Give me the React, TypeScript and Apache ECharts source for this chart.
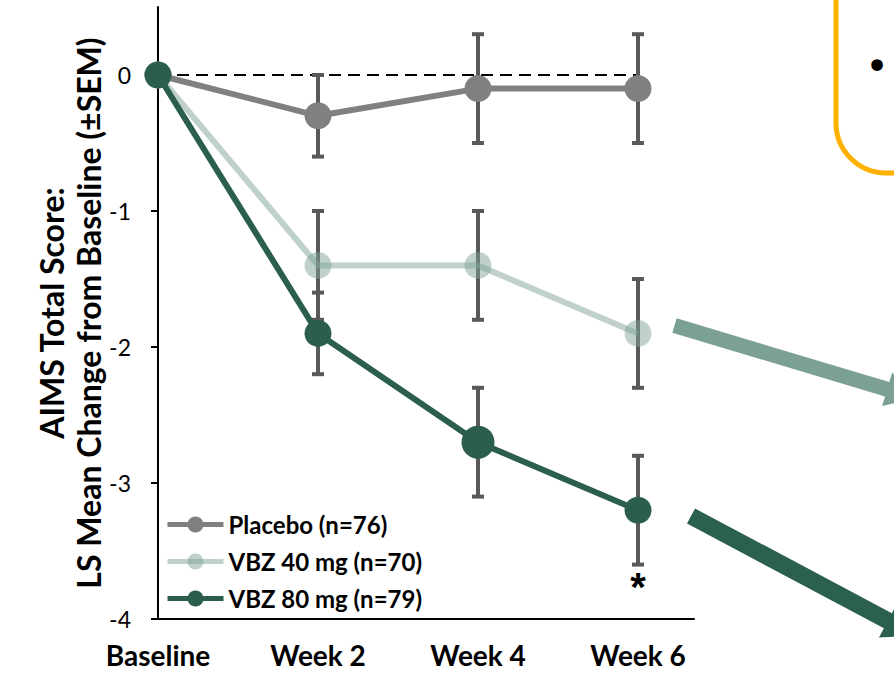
import React, { useEffect, useRef } from "react";
import * as echarts from "echarts";

const categories = ["Baseline", "Week 2", "Week 4", "Week 6"];
const weeks = [0, 2, 4, 6];
const placeboMean = [0, -0.3, -0.1, -0.1];
const placeboSem = [0, 0.3, 0.4, 0.4];
const vbz40Mean = [0, -1.4, -1.4, -1.9];
const vbz40Sem = [0, 0.4, 0.4, 0.4];
const vbz80Mean = [0, -1.9, -2.7, -3.2];
const vbz80Sem = [0, 0.3, 0.4, 0.4];
const vbz80Sizes = [27, 27, 33, 27];
const yTicks = [0, -1, -2, -3, -4];
const referenceLine = [[0, 0], [6, 0]];
const seriesNames = ["Placebo (n=76)", "VBZ 40 mg (n=70)", "VBZ 80 mg (n=79)"];
const significantIndex = 3; // Week 6, VBZ 80 mg

const FONT = "Lato, 'Open Sans', sans-serif";

function arrowPoints(
  x0: number,
  y0: number,
  angleDeg: number,
  shaftLen: number,
  shaftW: number,
  headW: number,
  headLen: number
) {
  const a = (angleDeg * Math.PI) / 180;
  const dx = Math.cos(a);
  const dy = Math.sin(a);
  const nx = -dy;
  const ny = dx;
  const p = (l: number, w: number) => [x0 + dx * l + nx * w, y0 + dy * l + ny * w];
  return [
    p(0, -shaftW / 2),
    p(shaftLen, -shaftW / 2),
    p(shaftLen, -headW / 2),
    p(shaftLen + headLen, 0),
    p(shaftLen, headW / 2),
    p(shaftLen, shaftW / 2),
    p(0, shaftW / 2),
  ];
}

export default function App() {
  const ref = useRef<HTMLDivElement>(null);

  useEffect(() => {
    if (!ref.current) return;
    const chart = echarts.init(ref.current, undefined, { renderer: "svg" });

    const errData = [
      ...weeks.map((w, i) => [w, placeboMean[i], placeboSem[i]]),
      ...weeks.map((w, i) => [w, vbz40Mean[i], vbz40Sem[i]]),
      ...weeks.map((w, i) => [w, vbz80Mean[i], vbz80Sem[i]]),
    ];

    const option: any = {
      animation: false,
      backgroundColor: "#ffffff",
      grid: { left: 158, right: 200, top: 7, bottom: 54, containLabel: false },
      xAxis: {
        type: "value",
        min: 0,
        max: 6.7,
        interval: 2,
        splitLine: { show: false },
        axisLine: { onZero: false, lineStyle: { color: "#000", width: 2 } },
        axisTick: { show: false },
        axisLabel: {
          customValues: weeks,
          formatter: (v: number) => {
            const i = weeks.indexOf(v);
            return i >= 0 ? categories[i] : "";
          },
          margin: 22,
          color: "#000",
          fontFamily: FONT,
          fontWeight: "bold",
          fontSize: 28,
          lineHeight: 28,
        },
      },
      yAxis: {
        type: "value",
        min: -4,
        max: 0.5,
        interval: 1,
        splitLine: { show: false },
        axisLine: { show: true, onZero: false, lineStyle: { color: "#000", width: 2 } },
        axisTick: {
          show: true,
          customValues: yTicks,
          length: 7,
          lineStyle: { color: "#000", width: 2 },
        },
        axisLabel: {
          customValues: yTicks,
          margin: 27,
          color: "#000",
          fontFamily: FONT,
          fontSize: 23,
        },
        name: "AIMS Total Score:\nLS Mean Change from Baseline (±SEM)",
        nameLocation: "middle",
        nameMoveOverlap: false,
        nameGap: 51,
        nameTextStyle: {
          color: "#000",
          fontFamily: FONT,
          fontWeight: "bold",
          fontSize: 32,
          lineHeight: 37,
          align: "center",
        },
      },
      legend: {
        data: seriesNames,
        orient: "vertical",
        left: 160,
        top: 507,
        itemWidth: 56,
        itemHeight: 20,
        itemGap: 12,
        lineStyle: { width: 5 },
        textStyle: {
          color: "#000",
          fontFamily: FONT,
          fontWeight: "bold",
          fontSize: 24,
          lineHeight: 25,
        },
      },
      series: [
        {
          type: "line",
          name: "zero",
          z: 0,
          silent: true,
          data: referenceLine,
          symbol: "none",
          lineStyle: { color: "#000", width: 2, type: [12, 7] },
        },
        {
          type: "custom",
          name: "errors",
          z: 1,
          silent: true,
          data: errData,
          renderItem: (params: any, api: any) => {
            const x = api.value(0);
            const y = api.value(1);
            const e = api.value(2);
            if (!e) return null;
            const top = api.coord([x, y + e]);
            const bot = api.coord([x, y - e]);
            const half = 6;
            const style = { stroke: "#595959", lineWidth: 4 };
            return {
              type: "group",
              children: [
                { type: "line", shape: { x1: top[0], y1: top[1], x2: bot[0], y2: bot[1] }, style },
                { type: "line", shape: { x1: top[0] - half, y1: top[1], x2: top[0] + half, y2: top[1] }, style },
                { type: "line", shape: { x1: bot[0] - half, y1: bot[1], x2: bot[0] + half, y2: bot[1] }, style },
              ],
            };
          },
        },
        {
          type: "line",
          name: seriesNames[0],
          z: 2,
          data: weeks.map((w, i) => [w, placeboMean[i]]),
          symbol: "circle",
          symbolSize: 27,
          color: "#808080",
          lineStyle: { color: "#808080", width: 6 },
          itemStyle: { color: "#808080" },
        },
        {
          type: "line",
          name: seriesNames[1],
          z: 3,
          data: weeks.map((w, i) => [w, vbz40Mean[i]]),
          symbol: "circle",
          symbolSize: 27,
          color: "#7fa396",
          lineStyle: { color: "#7fa396", width: 6, opacity: 0.5 },
          itemStyle: { color: "#7fa396", opacity: 0.5 },
        },
        {
          type: "line",
          name: seriesNames[2],
          z: 4,
          data: weeks.map((w, i) => ({ value: [w, vbz80Mean[i]], symbolSize: vbz80Sizes[i] })),
          symbol: "circle",
          color: "#2c5e50",
          lineStyle: { color: "#2c5e50", width: 6 },
          itemStyle: { color: "#2c5e50" },
        },
        {
          type: "scatter",
          name: "significance",
          z: 5,
          silent: true,
          symbolSize: 1,
          itemStyle: { color: "transparent" },
          data: [[weeks[significantIndex], vbz80Mean[significantIndex] - vbz80Sem[significantIndex]]],
          label: {
            show: true,
            formatter: "*",
            position: "bottom",
            distance: 2,
            color: "#000000",
            opacity: 1,
            fontFamily: "'Liberation Sans', Arial, sans-serif",
            fontWeight: "bold",
            fontSize: 40,
          },
        },
      ],
      graphic: [
        {
          type: "rect",
          shape: { x: 836, y: -100, width: 400, height: 273, r: 50 },
          style: { fill: "none", stroke: "#ffb000", lineWidth: 5 },
        },
        {
          type: "text",
          x: 877,
          y: 66,
          style: {
            text: "•",
            fill: "#000",
            font: "40px 'DejaVu Sans', sans-serif",
            align: "center",
            verticalAlign: "middle",
          },
        },
        {
          type: "polygon",
          shape: { points: arrowPoints(674.5, 325.5, 16.7, 222, 15, 35, 30) },
          style: { fill: "#7da094" },
        },
        {
          type: "polygon",
          shape: { points: arrowPoints(691, 516, 28, 223, 17, 38, 32) },
          style: { fill: "#2b5f4f" },
        },
      ],
    };

    chart.setOption(option);
    return () => chart.dispose();
  }, []);

  return (
    <div
      ref={ref}
      style={{ position: "absolute", left: 0, top: 0, width: 894, height: 673 }}
    />
  );
}
